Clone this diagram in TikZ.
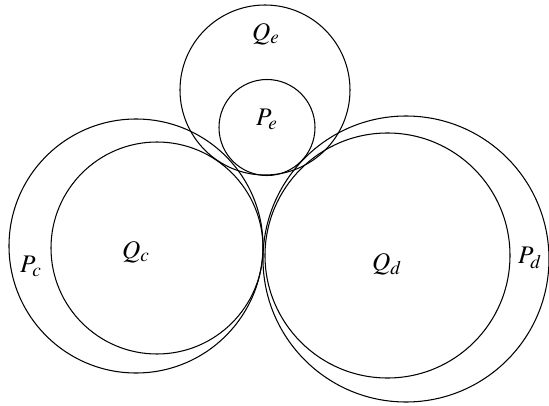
\documentclass[tikz,border=0pt]{standalone}
\usepackage{amsmath}
\usepackage{mathptmx}
\usepackage{tikz}

\begin{document}
\begin{tikzpicture}[x=0.02cm, y=-0.02cm, font=\Large, line width=0.6pt]
  \useasboundingbox (0,0) rectangle (549,406);
  % upper pair
  \draw (265,90) circle (85);
  \draw (267,127.5) circle (48);
  % left pair
  \draw (136,246) circle (127);
  \draw (157,248) circle (106);
  % right pair
  \draw (406,259) circle (143);
  \draw (387.5,255.5) circle (122.5);
  \node (Qe) at (266,34) {$Q_e$};
  \node (Pe) at (267,119) {$P_e$};
  \node (Pc) at (31,266) {$P_c$};
  \node (Qc) at (136,252) {$Q_c$};
  \node (Qd) at (387,264) {$Q_d$};
  \node (Pd) at (530,258) {$P_d$};
\end{tikzpicture}
\end{document}
